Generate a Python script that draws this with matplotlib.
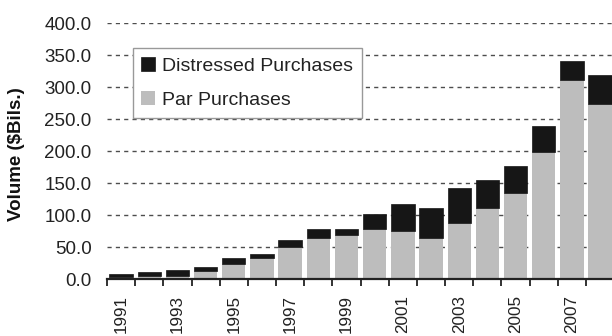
import matplotlib
matplotlib.use("Agg")
import matplotlib.pyplot as plt
from matplotlib.ticker import FixedLocator, NullFormatter
import numpy as np

plt.rcParams['font.family'] = ['Liberation Sans', 'DejaVu Sans']
plt.rcParams['lines.scale_dashes'] = False

years = [1991, 1992, 1993, 1994, 1995, 1996, 1997, 1998, 1999,
         2000, 2001, 2002, 2003, 2004, 2005, 2006, 2007, 2008]
par_purchases = [3.4, 5.5, 5.9, 13.8, 24.2, 33.0, 50.3, 64.3, 69.5,
                 78.4, 75.8, 64.3, 87.8, 111.3, 135.6, 199.7, 311.7, 273.8]
total_volume = [8.1, 11.3, 14.4, 19.5, 34.0, 39.5, 61.7, 78.9, 78.9,
                101.9, 118.0, 111.2, 143.4, 155.0, 177.8, 239.8, 341.4, 319.0]
distressed_purchases = [t - p for t, p in zip(total_volume, par_purchases)]

y_ticks = [0, 50, 100, 150, 200, 250, 300, 350, 400]

fig = plt.figure(figsize=(6.12, 3.36), dpi=100)
ax = fig.add_axes([0.1748, 0.1682, 0.8288, 0.7619])

x = np.arange(len(years))
ax.bar(x, par_purchases, width=0.83, color='#bdbdbd', zorder=3,
       label='Par Purchases')
ax.bar(x, distressed_purchases, bottom=par_purchases, width=0.83,
       color='#161616', edgecolor='#161616', linewidth=0.5, zorder=3,
       label='Distressed Purchases')

ax.set_xlim(-0.5, len(years) - 0.5)
ax.set_ylim(0, 400)

# y axis: labels only, dashed grid lines
ax.set_yticks(y_ticks)
ax.set_yticklabels([f"{v:.1f}" for v in y_ticks])
ax.tick_params(axis='y', length=0, pad=11, labelsize=13.5, labelcolor='#222222')
ax.yaxis.grid(True, linestyle=(0, (3, 3)), color='#4d4d4d', linewidth=1.0,
              zorder=1)
ax.set_axisbelow(True)

# x axis: ticks at category boundaries, labels every other year
ax.set_xticks(x[::2])
ax.set_xticklabels([str(y) for y in years[::2]], rotation=90, va='top')
ax.tick_params(axis='x', which='major', length=0, pad=11.5, labelsize=12.3,
               labelcolor='#222222')
ax.xaxis.set_minor_locator(FixedLocator(np.arange(-0.5, len(years), 1.0)))
ax.xaxis.set_minor_formatter(NullFormatter())
ax.tick_params(axis='x', which='minor', length=5, width=1.3, color='#222222',
               direction='out')

for side in ('top', 'right', 'left'):
    ax.spines[side].set_visible(False)
ax.spines['bottom'].set_linewidth(1.6)
ax.spines['bottom'].set_color('#222222')
ax.spines['bottom'].set_zorder(4)

ax.set_ylabel('Volume ($Bils.)', fontsize=13.5, fontweight='bold',
              color='#111111')
ax.yaxis.set_label_coords(-0.162, 0.49)

handles, labels = ax.get_legend_handles_labels()
leg = fig.legend(handles[::-1], labels[::-1], loc='upper left',
                 bbox_to_anchor=(0.2168, 0.8563), borderaxespad=0,
                 fontsize=14, frameon=True, fancybox=False,
                 edgecolor='#999999', framealpha=1.0,
                 handlelength=0.7, handleheight=0.7, handletextpad=0.35,
                 labelspacing=0.85, borderpad=0.45)
leg.get_frame().set_linewidth(1.0)
for t in leg.get_texts():
    t.set_color('#222222')

fig.savefig('out.png', dpi=100)
